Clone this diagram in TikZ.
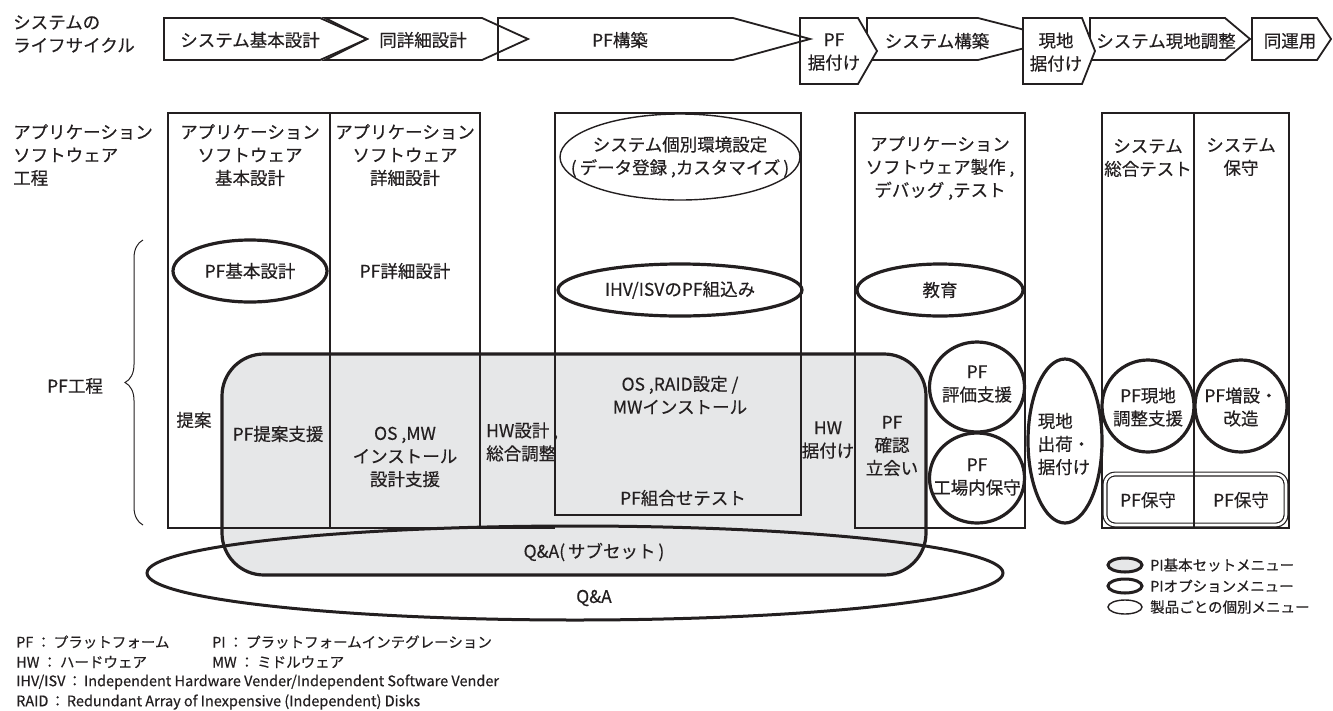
\documentclass[tikz,border=0pt]{standalone}
\usepackage{fontspec}
\setmainfont{Noto Sans CJK JP}[FakeBold=0.4]
\usetikzlibrary{shapes.geometric,decorations.pathreplacing}
\definecolor{ink}{HTML}{231F20}
\definecolor{qgray}{HTML}{E6E7E8}
\tikzset{
  txt/.style={font=\fontsize{17.5}{23}\selectfont, text=ink, align=center, inner sep=0pt},
  lefttxt/.style={txt, align=left, anchor=west},
  small/.style={font=\fontsize{14.5}{18}\selectfont, text=ink, inner sep=0pt, anchor=west},
  chev/.style={draw=ink, line width=1.8pt, line join=miter},
  box/.style={draw=ink, line width=1.4pt},
  thickell/.style={ellipse, draw=ink, line width=3.2pt, inner sep=0pt},
  thinell/.style={ellipse, draw=ink, line width=1.4pt, inner sep=0pt},
}
\begin{document}
\begin{tikzpicture}[x=1pt,y=-1pt]
\useasboundingbox (0,0) rectangle (1333,710);

% ---------- life cycle chevrons ----------
\node[lefttxt] (lc) at (13,34) {システムの\\ライフサイクル};
\draw[chev] (164,18) -- (320,18) -- (367,39) -- (320,60) -- (164,60) -- cycle;
\draw[chev] (325,18) -- (482,18) -- (528,39) -- (482,60) -- (325,60) -- (367,39) -- cycle;
\draw[chev] (867,18) -- (978,18) -- (1060,39) -- (978,60) -- (867,60) -- cycle;
\draw[chev, fill=white] (800,18) -- (858,18) -- (877,51) -- (858,84) -- (800,84) -- cycle;
\draw[chev] (498,18) -- (733,18) -- (810,39) -- (733,60) -- (498,60) -- cycle;
\draw[chev] (1090,18) -- (1225,18) -- (1250,39) -- (1225,60) -- (1090,60) -- cycle;
\draw[chev, fill=white] (1023,18) -- (1082,18) -- (1095,51) -- (1082,84) -- (1023,84) -- cycle;
\draw[chev] (1252,18) -- (1317,18) -- (1331,39) -- (1317,60) -- (1252,60) -- cycle;

\node[txt] (c1) at (250,40) {システム基本設計};
\node[txt] (c2) at (423,40) {同詳細設計};
\node[txt] (c3) at (620,40) {PF構築};
\node[txt] (c4) at (834,52) {PF\\据付け};
\node[txt] (c5) at (937,41) {システム構築};
\node[txt] (c6) at (1056,52) {現地\\据付け};
\node[txt] (c7) at (1166,41) {システム現地調整};
\node[txt] (c8) at (1290,41) {同運用};

% ---------- application software process ----------
\node[lefttxt] (ap) at (13,155) {アプリケーション\\ソフトウェア\\工程};

% gray PI basic set area (fill)
\fill[qgray, rounded corners=42pt] (222,354) rectangle (926,575);

% column boxes
\draw[box] (168,113) rectangle (480,528);
\draw[box] (330,113) -- (330,528);
\draw[box] (480,528) -- (555,528);
\draw[box] (555,113) rectangle (801,515);
\draw[box] (855,113) rectangle (1025,528);
\draw[box] (1102,113) rectangle (1289,528);

% gray outline and Q&A ellipse
\draw[ink, line width=3.2pt, rounded corners=42pt] (222,354) rectangle (926,575);
\draw[ink, line width=3pt] (575,573) ellipse [x radius=428, y radius=47];

% column headers
\node[txt] (h1) at (250,155) {アプリケーション\\ソフトウェア\\基本設計};
\node[txt] (h2) at (405,155) {アプリケーション\\ソフトウェア\\詳細設計};
\node[thinell, minimum width=240, minimum height=86] (h3) at (680,157) {};
\node[txt] (h3t) at (h3) {システム個別環境設定\\(\,データ登録 ,カスタマイズ\,)};
\node[txt] (h4) at (940,168) {アプリケーション\\ソフトウェア製作 ,\\デバッグ ,テスト};
\node[txt] (h5) at (1148,158) {システム\\総合テスト};
\node[txt] (h6) at (1241,157) {システム\\保守};

% PF process brace
\draw[ink, line width=1pt, decorate, decoration={brace, amplitude=18pt, aspect=0.5}] (143,525) -- (143,240);
\node[txt] (pfk) at (75,386) {PF工程};

% row 1
\node[thickell, minimum width=154, minimum height=62] (e1) at (250,271) {};
\node[txt] (e1t) at (e1) {PF基本設計};
\node[txt] (r2) at (405,271) {PF詳細設計};
\node[thickell, minimum width=244, minimum height=52] (e3) at (680,290) {};
\node[txt] (e3t) at (e3) {IHV/ISVのPF組込み};
\node[thickell, minimum width=166, minimum height=52] (e4) at (940,290) {};
\node[txt] (e4t) at (e4) {教育};

% row 2 (inside gray area)
\node[txt] (p1) at (194,420) {提案};
\node[txt] (p2) at (278,434) {PF提案支援};
\node[txt] (p3) at (405,457) {OS ,MW\\インストール\\設計支援};
\node[lefttxt] (p4) at (486,442) {HW設計 ,\\総合調整};
\node[txt] (p5) at (680,395) {OS ,RAID設定 /\\MWインストール};
\node[txt] (p6) at (683,498) {PF組合せテスト};
\node[txt] (p7) at (828,440) {HW\\据付け};
\node[txt] (p8) at (892,446) {PF\\確認\\立会い};

\node[thickell, minimum width=95, minimum height=90] (e5) at (977,387) {};
\node[txt] (e5t) at (977,384) {PF\\評価支援};
\node[thickell, minimum width=95, minimum height=90] (e6) at (977,478) {};
\node[txt] (e6t) at (977,477) {PF\\工場内保守};
\node[thickell, minimum width=74, minimum height=164] (e7) at (1065,441) {};
\node[txt, align=left] (e7t) at (1064,444) {現地\\出荷・\\据付け};
\node[thickell, minimum width=92, minimum height=92] (e8) at (1148,406) {};
\node[txt] (e8t) at (1148,407) {PF現地\\調整支援};
\node[thickell, minimum width=92, minimum height=92] (e9) at (1241,406) {};
\node[txt] (e9t) at (1241,407) {PF増設・\\改造};

\draw[ink, line width=1.2pt, double=white, double distance=2.6pt, rounded corners=10pt] (1105,474) rectangle (1286,525);
\draw[box] (1194,113) -- (1194,528);
\node[txt] (m1) at (1148,500) {PF保守};
\node[txt] (m2) at (1241,500) {PF保守};

% Q&A labels
\node[txt] (q1) at (594,552) {Q\&A(\,サブセット\,)};
\node[txt] (q2) at (594,598) {Q\&A};

% legend
\node[ellipse, draw=ink, line width=3pt, fill=qgray, minimum width=34, minimum height=14, inner sep=0pt] (lg1) at (1125,565) {};
\node[ellipse, draw=ink, line width=3pt, minimum width=34, minimum height=14, inner sep=0pt] (lg2) at (1125,586) {};
\node[ellipse, draw=ink, line width=1.4pt, minimum width=34, minimum height=14, inner sep=0pt] (lg3) at (1125,607) {};
\node[small] (lt1) at (1150,565) {PI基本セットメニュー};
\node[small] (lt2) at (1150,586) {PIオプションメニュー};
\node[small] (lt3) at (1150,607) {製品ごとの個別メニュー};

% footnotes
\node[small] (f1) at (16,642) {PF\hspace{3pt}：\hspace{3pt}プラットフォーム};
\node[small] (f2) at (212,642) {PI\hspace{3pt}：\hspace{3pt}プラットフォームインテグレーション};
\node[small] (f3) at (16,662) {HW\hspace{3pt}：\hspace{3pt}ハードウェア};
\node[small] (f4) at (212,662) {MW\hspace{3pt}：\hspace{3pt}ミドルウェア};
\node[small] (f5) at (16,682) {IHV/ISV\hspace{2pt}：\hspace{2pt}Independent Hardware Vender/Independent Software Vender};
\node[small] (f6) at (16,702) {RAID\hspace{2pt}：\hspace{2pt}Redundant Array of Inexpensive (Independent) Disks};
\end{tikzpicture}
\end{document}
